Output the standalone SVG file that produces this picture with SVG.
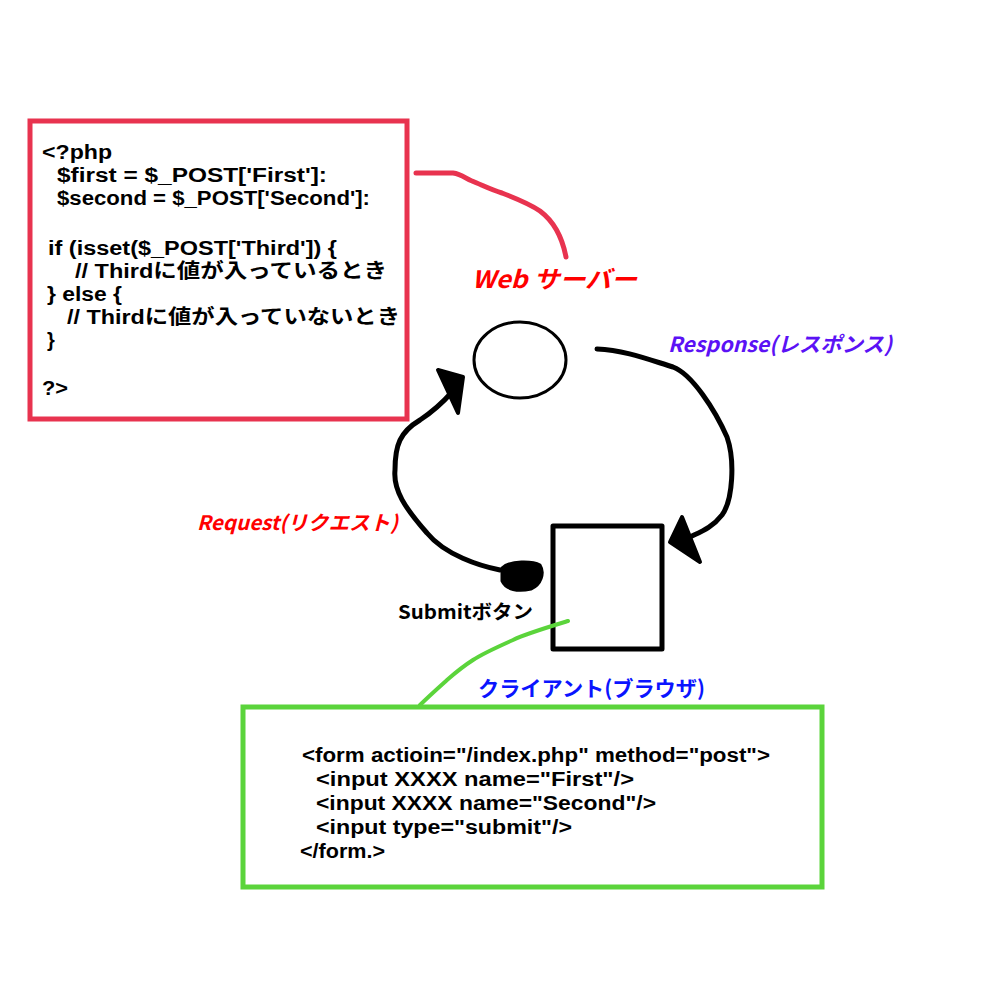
<svg xmlns="http://www.w3.org/2000/svg" width="1000" height="1000" viewBox="0 0 1000 1000">
<style>
.code{font-family:"Liberation Sans","Noto Sans CJK JP",sans-serif;font-weight:bold;font-size:20px;fill:#000}
.lbl{font-family:"Noto Sans CJK JP","Noto Sans",sans-serif;font-weight:bold}
.blk{fill:none;stroke:#000;stroke-linecap:round;stroke-linejoin:round}
</style>
<rect width="1000" height="1000" fill="#fff"/>
<g id="php-box">
<rect x="30" y="121" width="377" height="298" fill="#fff" stroke="#e8334f" stroke-width="5"/>
<text class="code" x="42" y="159" textLength="70" lengthAdjust="spacingAndGlyphs">&lt;?php</text>
<text class="code" x="57" y="182" textLength="270" lengthAdjust="spacingAndGlyphs">$first = $_POST['First']:</text>
<text class="code" x="57" y="205" textLength="313" lengthAdjust="spacingAndGlyphs">$second = $_POST['Second']:</text>
<text class="code" x="48" y="255" textLength="289" lengthAdjust="spacingAndGlyphs">if (isset($_POST['Third']) {</text>
<text class="code" x="75" y="278" textLength="312" lengthAdjust="spacingAndGlyphs">// Thirdに値が入っているとき</text>
<text class="code" x="47" y="301" textLength="75" lengthAdjust="spacingAndGlyphs">} else {</text>
<text class="code" x="67" y="324" textLength="333" lengthAdjust="spacingAndGlyphs">// Thirdに値が入っていないとき</text>
<text class="code" x="47" y="347">}</text>
<text class="code" x="42" y="395" textLength="26" lengthAdjust="spacingAndGlyphs">?&gt;</text>
</g>
<g id="web-server">
<ellipse cx="520" cy="360" rx="46" ry="38" class="blk" stroke-width="3"/>
<text class="lbl" x="472" y="288" font-size="24" fill="#ff0000" font-style="italic" textLength="165" lengthAdjust="spacingAndGlyphs">Web サーバー</text>
</g>
<g id="client">
<rect x="553" y="526" width="109" height="123" class="blk" stroke-width="5" stroke-linejoin="miter"/>
<text class="lbl" x="478" y="696" font-size="21" fill="#0a14ff" textLength="227" lengthAdjust="spacingAndGlyphs">クライアント(ブラウザ)</text>
</g>
<g id="submit-button">
<path d="M502,568 C510,560 533,561 540,565 C545,573 541,585 531,589 C518,592 506,590 502,581 Z" fill="#000" stroke="#000" stroke-width="3" stroke-linejoin="round"/>
<text class="lbl" x="398" y="619" font-size="19" fill="#000" textLength="135" lengthAdjust="spacingAndGlyphs">Submitボタン</text>
</g>
<g id="html-box">
<rect x="243" y="707" width="579" height="180" fill="#fff" stroke="#5bd43b" stroke-width="5"/>
<text class="code" x="302" y="762" font-size="21" textLength="468" lengthAdjust="spacingAndGlyphs">&lt;form actioin="/index.php" method="post"&gt;</text>
<text class="code" x="316" y="786" font-size="21" textLength="318" lengthAdjust="spacingAndGlyphs">&lt;input XXXX name="First"/&gt;</text>
<text class="code" x="316" y="810" font-size="21" textLength="340" lengthAdjust="spacingAndGlyphs">&lt;input XXXX name="Second"/&gt;</text>
<text class="code" x="316" y="834" font-size="21" textLength="256" lengthAdjust="spacingAndGlyphs">&lt;input type="submit"/&gt;</text>
<text class="code" x="300" y="858" font-size="21" textLength="85" lengthAdjust="spacingAndGlyphs">&lt;/form.&gt;</text>
</g>
<g id="labels">
<text class="lbl" x="668" y="352" font-size="21" fill="#5b12f5" font-style="italic" textLength="224" lengthAdjust="spacingAndGlyphs">Response(レスポンス)</text>
<text class="lbl" x="197" y="530" font-size="20" fill="#ff0000" font-style="italic" textLength="201" lengthAdjust="spacingAndGlyphs">Request(リクエスト)</text>
</g>
<g id="connectors">
<path d="M416,173 L453,173 C462,174 466,179 472,181 C482,185 492,190 502,193 C515,198 530,204 540,211 C552,220 562,236 566,257" fill="none" stroke="#e8334f" stroke-width="5" stroke-linecap="round"/>
<path d="M568,621 C545,628 525,634 513,640 C495,648 482,654 473,660 C462,667 455,673 447,680 C437,689 428,697 420,705" fill="none" stroke="#5bd43b" stroke-width="4" stroke-linecap="round"/>
<path d="M597,349 C625,350 650,360 673,367 C692,374 715,410 727,437 C735,460 733,500 722,515 C712,528 700,532 688,538" class="blk" stroke-width="5"/>
<path d="M670,542 L682,517 L700,562 Z" fill="#000" stroke="#000" stroke-width="4" stroke-linejoin="round"/>
<path d="M500,570 C480,566 445,555 427,533 C405,508 393,490 395,470 C395,445 400,432 420,420 C435,410 445,400 452,392" class="blk" stroke-width="5"/>
<path d="M438,370 L463,377 L458,413 Z" fill="#000" stroke="#000" stroke-width="4" stroke-linejoin="round"/>
</g>
</svg>
